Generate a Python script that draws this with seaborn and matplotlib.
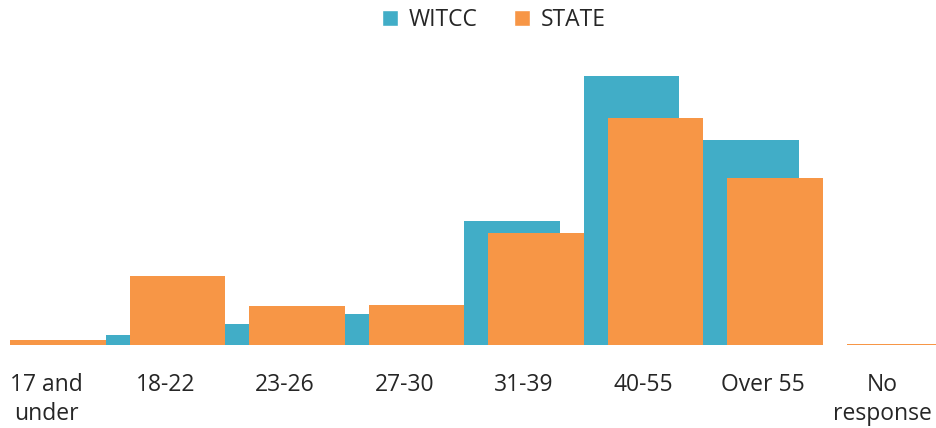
import matplotlib
matplotlib.use("Agg")
import matplotlib.pyplot as plt
import seaborn as sns
import numpy as np
import pandas as pd
from matplotlib.patches import Patch

categories = ["17 and\nunder", "18-22", "23-26", "27-30", "31-39", "40-55", "Over 55", "No\nresponse"]
witcc = [0.0, 1.5, 3.2, 4.7, 18.8, 40.8, 31.1, 0.0]
state = [0.8, 10.5, 5.9, 6.1, 17.0, 34.4, 25.3, 0.15]

teal = "#41ADC7"
orange = "#F79646"

sns.set_theme(style="white")
plt.rcParams['font.family'] = ['Open Sans', 'DejaVu Sans']

fig = plt.figure(figsize=(9.37, 4.28), dpi=100)
ax = fig.add_axes([0, (428 - 345) / 428, 1, 297 / 428])

idx = np.arange(len(categories))
df_w = pd.DataFrame({"pos": idx - 0.1, "val": witcc})
df_s = pd.DataFrame({"pos": idx + 0.1, "val": state})

sns.barplot(data=df_w, x="pos", y="val", native_scale=True, width=0.8,
            color=teal, saturation=1, linewidth=0, edgecolor="none", ax=ax)
sns.barplot(data=df_s, x="pos", y="val", native_scale=True, width=0.8,
            color=orange, saturation=1, linewidth=0, edgecolor="none", ax=ax)

ax.set_xlim(-46 / 119.5, (937 - 46) / 119.5)
ax.set_ylim(0, 45)
ax.set_xticks(idx)
ax.set_xticklabels(categories, fontsize=16.5, color="#262626", linespacing=1.3)
ax.tick_params(axis="x", length=0, pad=20)
ax.set_yticks([])
ax.set_xlabel("")
ax.set_ylabel("")
for s in ax.spines.values():
    s.set_visible(False)

handles = [Patch(facecolor=teal, label="WITCC"), Patch(facecolor=orange, label="STATE")]
fig.legend(handles=handles, loc="center", bbox_to_anchor=(494 / 937, 1 - 20 / 428),
           ncol=2, frameon=False, fontsize=16.5, handlelength=0.7, handleheight=0.7,
           handletextpad=0.45, columnspacing=1.6, labelcolor="#262626")

fig.savefig("out.png", dpi=100)
